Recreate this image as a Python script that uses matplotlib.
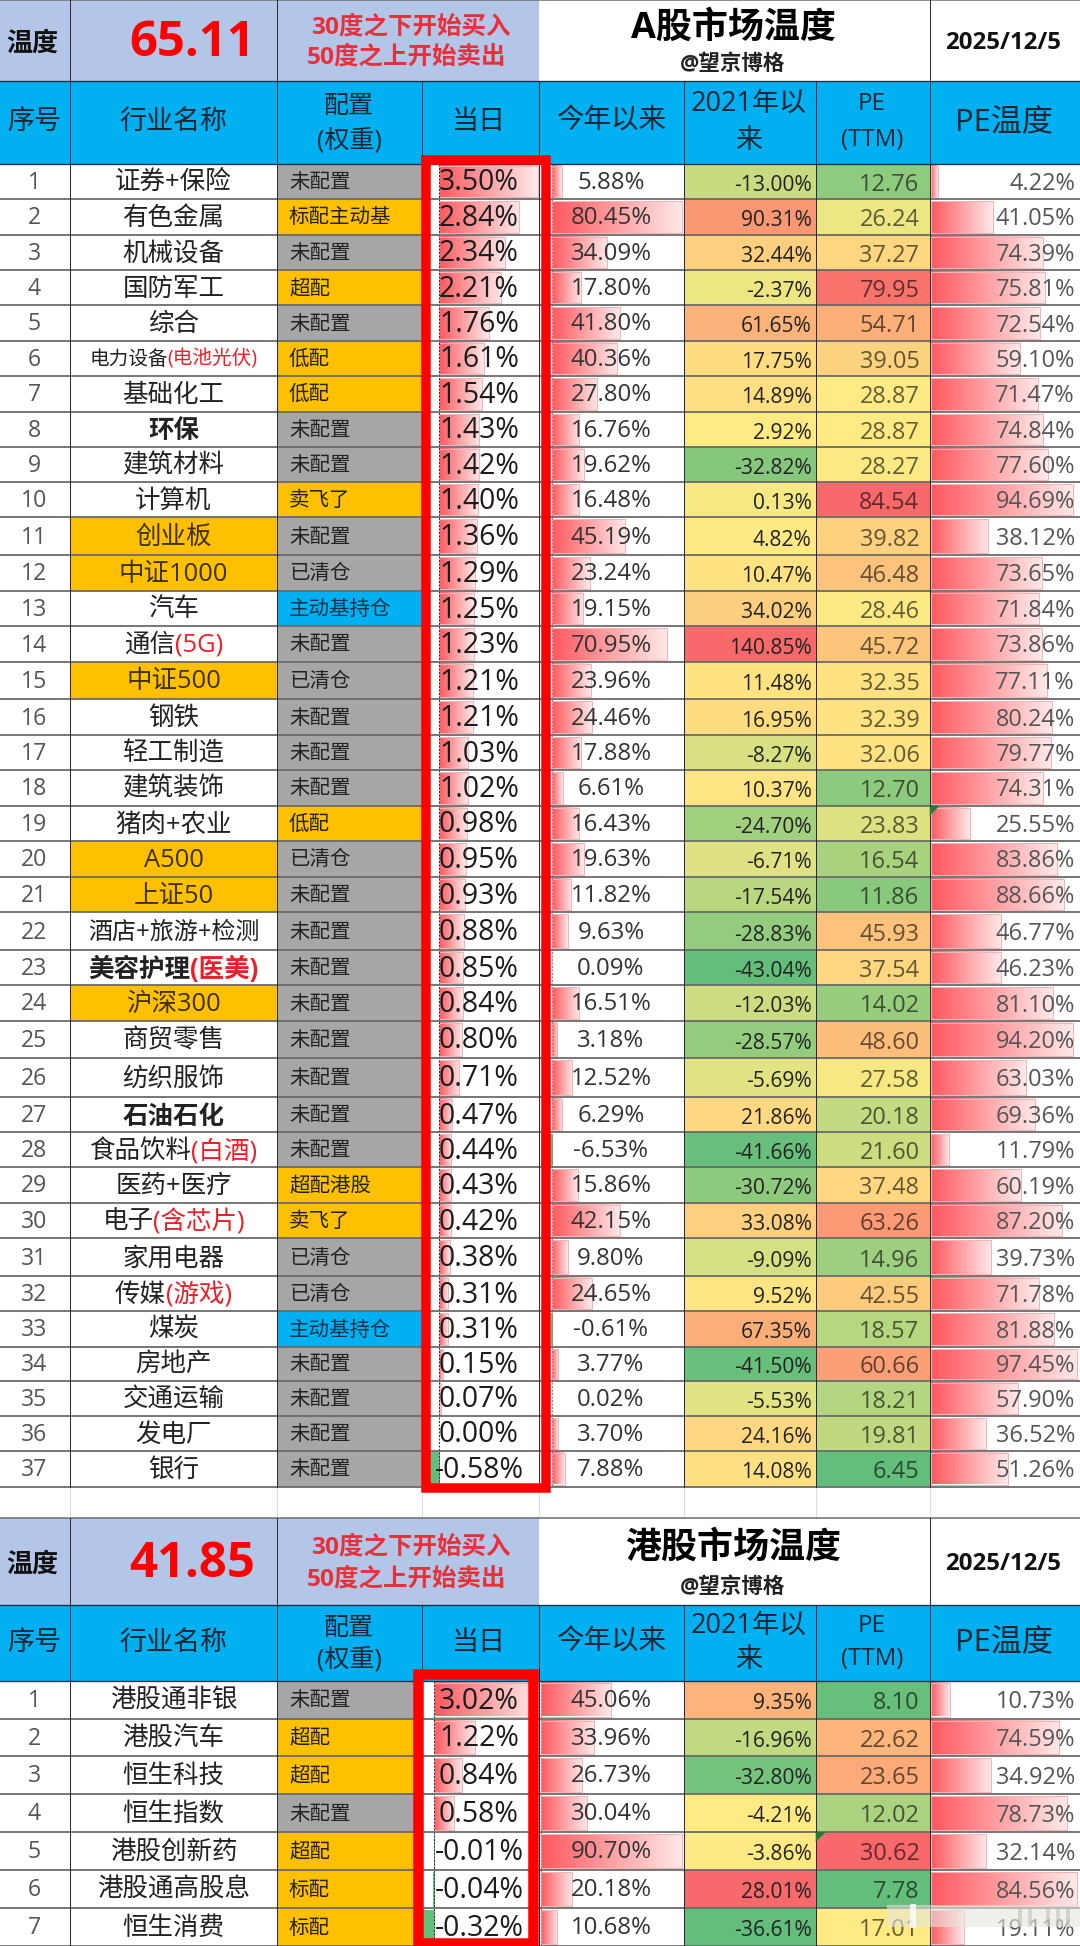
import numpy as np
import matplotlib
matplotlib.use('Agg')
import matplotlib.pyplot as plt
from matplotlib.colors import LinearSegmentedColormap, TwoSlopeNorm
from matplotlib.patches import Rectangle, Polygon

FONT = ['Open Sans', 'Noto Sans CJK SC', 'DejaVu Sans']
plt.rcParams['font.family'] = FONT

# A股
a_names = ['证券+保险', '有色金属', '机械设备', '国防军工', '综合', '电力设备(电池光伏)', '基础化工', '环保', '建筑材料', '计算机',
           '创业板', '中证1000', '汽车', '通信(5G)', '中证500', '钢铁', '轻工制造', '建筑装饰', '猪肉+农业', 'A500',
           '上证50', '酒店+旅游+检测', '美容护理(医美)', '沪深300', '商贸零售', '纺织服饰', '石油石化', '食品饮料(白酒)', '医药+医疗', '电子(含芯片)',
           '家用电器', '传媒(游戏)', '煤炭', '房地产', '交通运输', '发电厂', '银行']
a_config = ['未配置', '标配主动基', '未配置', '超配', '未配置', '低配', '低配', '未配置', '未配置', '卖飞了',
            '未配置', '已清仓', '主动基持仓', '未配置', '已清仓', '未配置', '未配置', '未配置', '低配', '已清仓',
            '未配置', '未配置', '未配置', '未配置', '未配置', '未配置', '未配置', '未配置', '超配港股', '卖飞了',
            '已清仓', '已清仓', '主动基持仓', '未配置', '未配置', '未配置', '未配置']
a_day = [3.50, 2.84, 2.34, 2.21, 1.76, 1.61, 1.54, 1.43, 1.42, 1.40, 1.36, 1.29, 1.25, 1.23, 1.21, 1.21, 1.03, 1.02, 0.98,
         0.95, 0.93, 0.88, 0.85, 0.84, 0.80, 0.71, 0.47, 0.44, 0.43, 0.42, 0.38, 0.31, 0.31, 0.15, 0.07, 0.00, -0.58]
a_ytd = [5.88, 80.45, 34.09, 17.80, 41.80, 40.36, 27.80, 16.76, 19.62, 16.48, 45.19, 23.24, 19.15, 70.95, 23.96, 24.46, 17.88, 6.61, 16.43,
         19.63, 11.82, 9.63, 0.09, 16.51, 3.18, 12.52, 6.29, -6.53, 15.86, 42.15, 9.80, 24.65, -0.61, 3.77, 0.02, 3.70, 7.88]
a_2021 = [-13.00, 90.31, 32.44, -2.37, 61.65, 17.75, 14.89, 2.92, -32.82, 0.13, 4.82, 10.47, 34.02, 140.85, 11.48, 16.95, -8.27, 10.37, -24.70,
          -6.71, -17.54, -28.83, -43.04, -12.03, -28.57, -5.69, 21.86, -41.66, -30.72, 33.08, -9.09, 9.52, 67.35, -41.50, -5.53, 24.16, 14.08]
a_pe = [12.76, 26.24, 37.27, 79.95, 54.71, 39.05, 28.87, 28.87, 28.27, 84.54, 39.82, 46.48, 28.46, 45.72, 32.35, 32.39, 32.06, 12.70, 23.83,
        16.54, 11.86, 45.93, 37.54, 14.02, 48.60, 27.58, 20.18, 21.60, 37.48, 63.26, 14.96, 42.55, 18.57, 60.66, 18.21, 19.81, 6.45]
a_pet = [4.22, 41.05, 74.39, 75.81, 72.54, 59.10, 71.47, 74.84, 77.60, 94.69, 38.12, 73.65, 71.84, 73.86, 77.11, 80.24, 79.77, 74.31, 25.55,
         83.86, 88.66, 46.77, 46.23, 81.10, 94.20, 63.03, 69.36, 11.79, 60.19, 87.20, 39.73, 71.78, 81.88, 97.45, 57.90, 36.52, 51.26]

# 港股
h_names = ['港股通非银', '港股汽车', '恒生科技', '恒生指数', '港股创新药', '港股通高股息', '恒生消费']
h_config = ['未配置', '超配', '超配', '未配置', '超配', '标配', '标配']
h_day = [3.02, 1.22, 0.84, 0.58, -0.01, -0.04, -0.32]
h_ytd = [45.06, 33.96, 26.73, 30.04, 90.70, 20.18, 10.68]
h_2021 = [9.35, -16.96, -32.80, -4.21, -3.86, 28.01, -36.61]
h_pe = [8.10, 22.62, 23.65, 12.02, 30.62, 7.78, 17.01]
h_pet = [10.73, 74.59, 34.92, 78.73, 32.14, 84.56, 19.11]

# 行高不是完全一样的
a_edges = [163.5, 199, 234.7, 270, 305.3, 340.7, 376, 411.7, 446.7, 482.3, 517.3, 555, 590.7, 626.3, 661.7, 699.3, 735, 770, 805.7, 841,
           876.7, 912.3, 950, 985.3, 1020.7, 1058.3, 1096.7, 1132.3, 1167.3, 1202.7, 1238.3, 1276, 1311.3, 1346.7, 1380.7, 1416, 1451, 1486.5]
h_edges = [1680.7, 1718.5, 1756, 1794, 1832, 1870, 1908, 1946]
cols = [0, 69.5, 277, 421.5, 538.5, 684, 815.7, 929.7, 1080]

index_funds = ['创业板', '中证1000', '中证500', 'A500', '上证50', '沪深300']
bold_names = ['环保', '美容护理(医美)', '石油石化']
small_names = {'电力设备(电池光伏)': 19.6, '酒店+旅游+检测': 24}
blue_config = ['主动基持仓']
orange_config = ['标配主动基', '超配', '低配', '卖飞了', '超配港股', '标配']

BLUE = '#00B0F0'
PANEL = '#B4C6E7'
ORANGE = '#FFC000'
GRAY = '#A6A6A6'
RED = '#FF0000'
LINE = '#6a6a6a'
DARK = '#1c2534'

fig = plt.figure(figsize=(10.8, 19.46), dpi=100)
ax = fig.add_axes([0, 0, 1, 1])
ax.set_xlim(0, 1080)
ax.set_ylim(1946, 0)
ax.set_autoscale_on(False)
ax.axis('off')

bar_cmap = LinearSegmentedColormap.from_list('bar', ['#FF5A60', '#FFE8E8'])
neg_cmap = LinearSegmentedColormap.from_list('neg', ['#63BE7B', '#63BE7B'])
heat_cmap = LinearSegmentedColormap.from_list('heat', ['#63BE7B', '#FFEB84', '#F8696B'])
grad = np.linspace(0, 1, 64).reshape(1, -1)


def px(n):
    return n * 0.72


def t(x, y, s, size, color='#222222', ha='center', weight='normal', z=6, alpha=None):
    return ax.text(x, y, s, fontsize=px(size), color=color, ha=ha, va='center', fontweight=weight, zorder=z, alpha=alpha, family=FONT)


def fill(x0, x1, y0, y1, color, z=1):
    ax.add_patch(Rectangle((x0, y0), x1 - x0, y1 - y0, facecolor=color, edgecolor='none', zorder=z))


def bar(axis, scale, val, y0, y1):
    w = val * scale
    if abs(w) < 0.3:
        return
    cm = bar_cmap if w > 0 else neg_cmap
    g = grad if w > 0 else grad[:, ::-1]
    ax.imshow(g, cmap=cm, extent=(min(axis, axis + w), max(axis, axis + w), y1 - 2, y0 + 2), aspect='auto', zorder=2, interpolation='bilinear')
    ec = '#F2B4B6' if w > 0 else '#63BE7B'
    ax.add_patch(Rectangle((min(axis, axis + w), y0 + 2), abs(w), y1 - y0 - 4, fill=False, edgecolor=ec, lw=px(1), zorder=3))


def draw_name(name, y, color):
    size = small_names.get(name, 25.5)
    weight = 'bold' if name in bold_names else 'normal'
    if '(' not in name:
        t(173.5, y, name, size, color, weight=weight)
        return
    # 括号里的红字,先量宽度再排
    head, tail = name.split('(')
    tail = '(' + tail
    renderer = fig.canvas.get_renderer()
    a = t(0, y, head, size, color, ha='left', weight=weight)
    b = t(0, y, tail, size, '#E8202A', ha='left', weight=weight)
    wa = a.get_window_extent(renderer).width
    wb = b.get_window_extent(renderer).width
    left = 173.5 - (wa + wb) / 2
    a.set_x(left)
    b.set_x(left + wa)


def draw_table(top, head, edges, score, title, names, config, day, ytd, since, pe, pet,
               day_axis, day_scale, ytd_axis, ytd_scale, pet_scale):
    y0 = edges[0]
    ph = head - top
    hh = y0 - head
    # 顶部
    fill(0, cols[4], top, head, PANEL)
    t(32, top + ph * 0.54, '温度', 26, '#111111', weight='bold')
    t(192, top + ph * 0.54, score, 49, RED, weight='bold')
    t(411, top + ph * 0.34, '30度之下开始买入', 24.5, '#E8303A', weight='bold')
    t(407, top + ph * 0.71, '50度之上开始卖出', 24.5, '#E8303A', weight='bold')
    t(733, top + ph * 0.36, title, 36, '#000000', weight='bold')
    t(733, top + ph * 0.80, '@望京博格', 21.5, '#222222', weight='bold')
    t(1003.5, top + ph * 0.54, '2025/12/5', 24, '#111111', weight='bold')

    # 表头
    fill(0, 1080, head, y0, BLUE)
    t(34.5, head + hh * 0.5, '序号', 27, DARK)
    t(173.5, head + hh * 0.5, '行业名称', 27, DARK)
    t(349, head + hh * 0.31, '配置', 25, DARK)
    t(349, head + hh * 0.72, '(权重)', 25, DARK)
    t(479, head + hh * 0.5, '当日', 27, DARK)
    t(611, head + hh * 0.5, '今年以来', 27.5, DARK)
    t(749, head + hh * 0.28, '2021年以', 27, DARK)
    t(749, head + hh * 0.73, '来', 27, DARK)
    t(872, head + hh * 0.28, 'PE', 24, DARK)
    t(872, head + hh * 0.72, '(TTM)', 24, DARK)
    t(1004, head + hh * 0.5, 'PE温度', 31, DARK)

    n1 = TwoSlopeNorm(vmin=min(since), vcenter=np.median(since), vmax=max(since))
    n2 = TwoSlopeNorm(vmin=min(pe), vcenter=np.median(pe), vmax=max(pe))

    for i in range(len(names)):
        a, b = edges[i], edges[i + 1]
        y = (a + b) / 2 + 1.5
        t(34.5, y, str(i + 1), 23, '#555555')

        name_color = '#222222'
        if names[i] in index_funds:
            fill(cols[1], cols[2], a, b, ORANGE)
            name_color = '#3f3208'
        draw_name(names[i], y, name_color)

        c = config[i]
        bg = BLUE if c in blue_config else ORANGE if c in orange_config else GRAY
        fill(cols[2], cols[3], a, b, bg)
        t(289, y, c, 20.5, '#16324a' if bg == BLUE else '#222222', ha='left')

        bar(day_axis, day_scale, day[i], a, b)
        t(479, y, '%.2f%%' % day[i], 28.5, '#1c1c1c')

        bar(ytd_axis, ytd_scale, ytd[i], a, b)
        t(611, y, '%.2f%%' % ytd[i], 24, '#333333')

        fill(cols[5], cols[6], a, b, heat_cmap(n1(since[i])))
        t(811.5, y + 2.5, '%.2f%%' % since[i], 21, '#222222', ha='right')
        fill(cols[6], cols[7], a, b, heat_cmap(n2(pe[i])))
        t(919.5, y + 2, '%.2f' % pe[i], 23.5, '#000000', ha='right', alpha=0.6)

        bar(cols[7] + 1.5, pet_scale, pet[i], a, b)
        t(1075, y + 1, '%.2f%%' % pet[i], 23.5, '#555555', ha='right')

    # 虚线零轴
    ax.plot([day_axis, day_axis], [y0, edges[-1]], color='#333333', lw=px(1), ls=(0, (2, 1.5)), zorder=4)
    ax.plot([ytd_axis, ytd_axis], [y0, edges[-1]], color='#bb7777', lw=px(1), ls=(0, (2, 1.5)), zorder=4)

    # 格线
    for e in edges[1:]:
        ax.plot([0, 1080], [e, e], color=LINE, lw=px(1.8), zorder=5)
    ax.plot([0, 1080], [head, head], color='#1c2c44', lw=px(1.3), zorder=5)
    ax.plot([0, 1080], [y0, y0], color='#1c2c44', lw=px(1.3), zorder=5)
    ax.plot([0, 1080], [top, top], color=LINE, lw=px(1.5), zorder=5)
    for x in cols[1:-1]:
        ax.plot([x, x], [head, edges[-1]], color='#2a2a3a', lw=px(1), zorder=5)
    for x in [cols[1], cols[2], cols[7]]:
        ax.plot([x, x], [top, head], color='#2a2a3a', lw=px(1), zorder=5)


draw_table(0, 80.5, a_edges, '65.11', 'A股市场温度', a_names, a_config, a_day, a_ytd, a_2021, a_pe, a_pet,
           439, 28.2, 552, 1.62, 1.5)
draw_table(1517.5, 1604.5, h_edges, '41.85', '港股市场温度', h_names, h_config, h_day, h_ytd, h_2021, h_pe, h_pet,
           434, 33.8, 540.6, 1.56, 1.72)

# 两表之间的淡格线
for x in cols[1:-1]:
    ax.plot([x, x], [a_edges[-1], 1517.5], color='#dddddd', lw=px(1), zorder=1)

# 左上角绿三角
r = a_edges[18]
ax.add_patch(Polygon([(cols[7], r), (cols[7] + 10, r), (cols[7], r + 10)], facecolor='#1f7a3a', edgecolor='none', zorder=7))
r = h_edges[4]
ax.add_patch(Polygon([(cols[6], r), (cols[6] + 10, r), (cols[6], r + 10)], facecolor='#1f7a3a', edgecolor='none', zorder=7))

# 红框
ax.add_patch(Rectangle((426, 160), 120, 1327.5, fill=False, edgecolor=RED, lw=px(9.5), joinstyle='miter', zorder=8))
ax.add_patch(Rectangle((418, 1674), 115, 269, fill=False, edgecolor=RED, lw=px(10.5), joinstyle='miter', zorder=8))

# 右下角水印
ax.add_patch(Rectangle((887, 1905), 193, 22, facecolor='#e6e6de', edgecolor='none', alpha=0.6, zorder=9))
ax.add_patch(Rectangle((910, 1904), 6, 24, facecolor='white', edgecolor='none', alpha=0.8, zorder=9))
for x in [1018, 1028, 1046, 1056, 1066]:
    ax.add_patch(Rectangle((x, 1908), 4, 18, facecolor='#b8b8b8', edgecolor='none', alpha=0.5, zorder=9))

fig.savefig('out.png', dpi=100)
